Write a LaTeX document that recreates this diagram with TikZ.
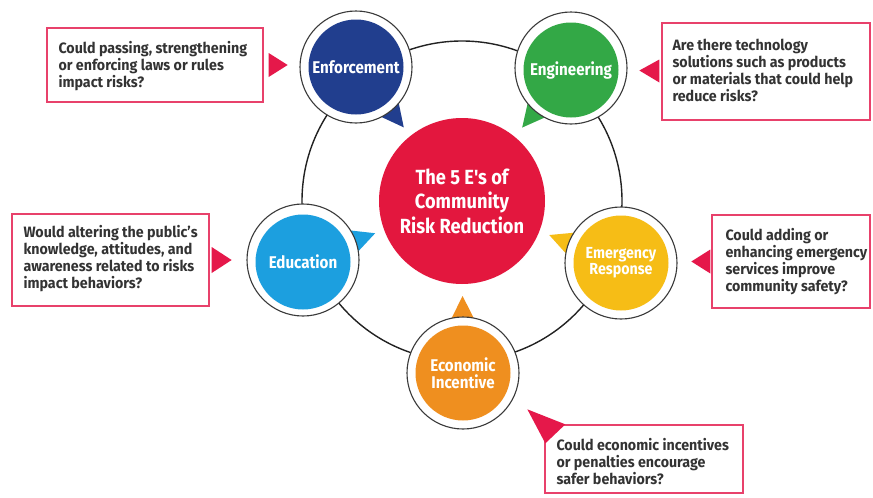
\documentclass[tikz,border=0pt]{standalone}
\usepackage{fontspec}
\setmainfont{Fira Sans}[FakeStretch=0.95]
\newfontfamily\condfont{Fira Sans}[FakeStretch=0.89]
\usetikzlibrary{calc}

\definecolor{enfc}{HTML}{213E8E}
\definecolor{engc}{HTML}{33A846}
\definecolor{emrc}{HTML}{F6BD16}
\definecolor{educ}{HTML}{1C9FDF}
\definecolor{ecoc}{HTML}{EF8F1F}
\definecolor{hubc}{HTML}{E3173E}
\definecolor{boxc}{HTML}{E8416B}
\definecolor{ptrc}{HTML}{E5184A}
\definecolor{txtc}{HTML}{333333}
\definecolor{rimc}{HTML}{3A3A3A}
\definecolor{ringc}{HTML}{222222}

\newcommand\qfont{\fontsize{15}{17}\selectfont\bfseries}
\newcommand\elabel{\condfont\fontsize{17}{16.5}\selectfont\bfseries}
\newcommand\hubfont{\condfont\fontsize{20.5}{24.5}\selectfont\bfseries}

\tikzset{
  ring/.style={draw=ringc, line width=1.4pt},
  halo/.style={circle, fill=white, draw=rimc, line width=1.1pt,
    minimum size=112pt, inner sep=0pt},
  ebub/.style={circle, fill=#1, minimum size=95pt, inner sep=0pt,
    text=white, font=\elabel, align=center},
  hubdisk/.style={circle, fill=hubc, minimum size=166pt, inner sep=0pt,
    text=white, font=\hubfont, align=center},
  qbox/.style={rectangle, draw=boxc, line width=1.3pt, fill=white, inner sep=0pt},
  qtext/.style={anchor=west, align=left, inner sep=0pt, text=txtc, font=\qfont},
  ptr/.style={fill=ptrc},
}

\begin{document}
\begin{tikzpicture}[x=1pt,y=-1pt]
  \fill[white] (0,0) rectangle (873,498);
  \useasboundingbox (0,0) rectangle (873,498);

  % centres of the five E discs
  \coordinate (penf) at (356,67);
  \coordinate (peng) at (571,68);
  \coordinate (pemr) at (621,263);
  \coordinate (pedu) at (303,260);
  \coordinate (peco) at (463,373);
  \coordinate (pctr) at (462,201);

  % connecting ring
  \draw[ring] (pctr) circle[radius=160pt];

  % central disc
  \node[hubdisk] (hub) at (pctr) {The 5 E's of\\Community\\Risk Reduction};

  % speech-bubble tails pointing at the centre
  \foreach \p/\c in {penf/enfc, peng/engc, pemr/emrc, pedu/educ, peco/ecoc}{
    \fill[\c] ($(\p)!46pt!22:(pctr)$) -- ($(\p)!77pt!(pctr)$)
      -- ($(\p)!46pt!-22:(pctr)$) -- cycle;
  }

  % the five E discs
  \node[halo] (henf) at (penf) {};
  \node[ebub=enfc] (enf) at (penf) {Enforcement};
  \node[halo] (heng) at (peng) {};
  \node[ebub=engc] (eng) at ($(peng)+(0,2)$) {Engineering};
  \node[halo] (hemr) at (pemr) {};
  \node[ebub=emrc, font=\condfont\fontsize{16}{16}\selectfont\bfseries] (emr) at (pemr) {Emergency\\Response};
  \node[halo] (hedu) at (pedu) {};
  \node[ebub=educ] (edu) at ($(pedu)+(0,2)$) {Education};
  \node[halo] (heco) at (peco) {};
  \node[ebub=ecoc] (eco) at (peco) {Economic\\Incentive};

  % question boxes
  \node[qbox, minimum width=216pt, minimum height=74pt] (q1) at (155,65) {};
  \node[qtext] (t1) at ($(q1.west)+(12,1)$)
    {Could passing, strengthening\\or enforcing laws or rules\\impact risks?};
  \fill[ptr] ($(q1.east)+(5,-12)$) -- ($(q1.east)+(24,0)$) -- ($(q1.east)+(5,12)$) -- cycle;

  \node[qbox, minimum width=208pt, minimum height=97pt] (q2) at (766,71.5) {};
  \node[qtext] (t2) at ($(q2.west)+(11,-1)$)
    {Are there technology\\solutions such as products\\or materials that could help\\reduce risks?};
  \fill[ptr] ($(q2.west)+(-2,-12)$) -- ($(q2.west)+(-22,-1)$) -- ($(q2.west)+(-2,11)$) -- cycle;

  \node[qbox, minimum width=197pt, minimum height=92pt] (q3) at (110.5,260) {};
  \node[qtext] (t3) at ($(q3.west)+(12,-1)$)
    {Would altering the public's\\knowledge, attitudes, and\\awareness related to risks\\impact behaviors?};
  \fill[ptr] ($(q3.east)+(2,-13)$) -- ($(q3.east)+(22,0)$) -- ($(q3.east)+(2,13)$) -- cycle;

  \node[qbox, minimum width=158pt, minimum height=93pt] (q4) at (791,261.5) {};
  \node[qtext] (t4) at ($(q4.west)+(14,0)$)
    {Could adding or\\enhancing emergency\\services improve\\community safety?};
  \fill[ptr] ($(q4.west)+(-1,-12)$) -- ($(q4.west)+(-20,0)$) -- ($(q4.west)+(-1,12)$) -- cycle;

  \node[qbox, minimum width=198pt, minimum height=68pt] (q5) at (644,459) {};
  \node[qtext] (t5) at ($(q5.west)+(12,2.5)$)
    {Could economic incentives\\or penalties encourage\\safer behaviors?};
  \fill[ptr] ($(q5.north west)+(-17,-15)$) -- ($(q5.north west)+(21,0)$)
    -- ($(q5.north west)+(1,19)$) -- cycle;
\end{tikzpicture}
\end{document}
